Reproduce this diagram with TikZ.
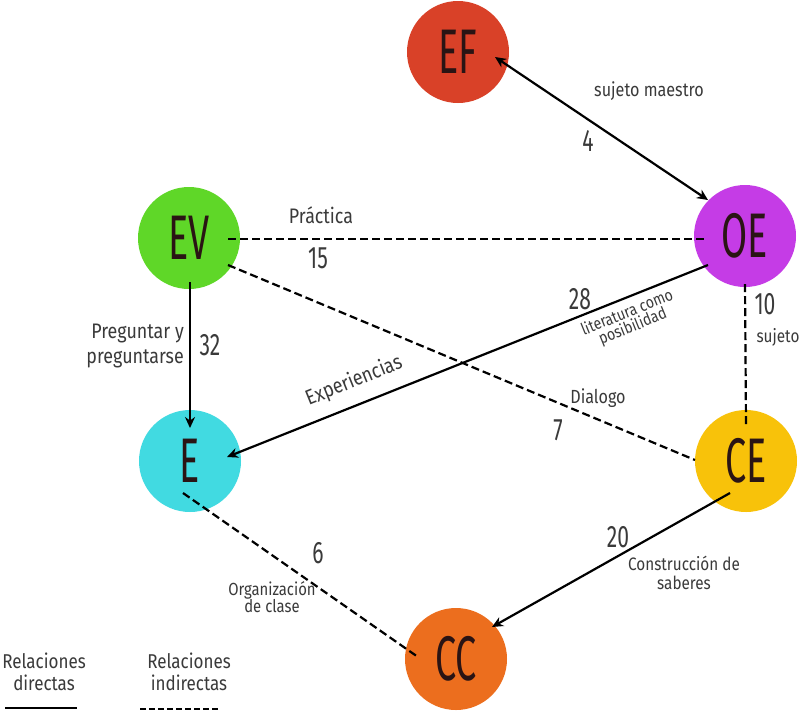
\documentclass[tikz,border=0pt]{standalone}
\usepackage{fontspec}
\setmainfont{Fira Sans}[FakeStretch=0.85]
\newfontfamily\cirf{Fira Sans}[FakeStretch=0.6]
\newfontfamily\numf{Fira Sans}[FakeStretch=0.68]
\usetikzlibrary{calc,arrows.meta}
\definecolor{cEF}{HTML}{D94128}
\definecolor{cOE}{HTML}{C53CE6}
\definecolor{cEV}{HTML}{5FD728}
\definecolor{cE}{HTML}{41DAE1}
\definecolor{cCE}{HTML}{F8C20A}
\definecolor{cCC}{HTML}{EC6E1E}
\definecolor{txt}{HTML}{3A3A3A}
\definecolor{ctxt}{HTML}{2A1414}
\tikzset{
  circ/.style={circle, minimum size=102pt, inner sep=0pt, text=ctxt,
    font=\cirf\fontsize{63}{63}\selectfont},
  solidarrow/.style={line width=2.2pt, black, -{Stealth[length=11pt,width=10pt]}},
  bothsolid/.style={line width=2.2pt, black, {Stealth[length=11pt,width=10pt]}-{Stealth[length=11pt,width=10pt]}},
  dashline/.style={line width=2.2pt, black, dash pattern=on 8pt off 4pt},
  lbl/.style={text=txt, font=\fontsize{20}{22}\selectfont, inner sep=0pt, align=center},
  slbl/.style={text=txt, font=\fontsize{17}{17}\selectfont, inner sep=0pt, align=center},
  num/.style={text=txt, font=\numf\fontsize{31}{31}\selectfont, inner sep=0pt},
  leg/.style={text=txt, font=\fontsize{20}{22}\selectfont, inner sep=0pt, align=center}
}
\begin{document}
\begin{tikzpicture}[x=1pt,y=-1pt]
\useasboundingbox (0,0) rectangle (800,716);
\fill[white] (0,0) rectangle (800,716);
% circles
\node[circ, fill=cEF] (EF) at (458,52) {EF};
\node[circ, fill=cOE] (OE) at (745,236) {OE};
\node[circ, fill=cEV] (EV) at (189,238) {EV};
\node[circ, fill=cE]  (E)  at (190,461) {E};
\node[circ, fill=cCE] (CE) at (746,461) {CE};
\node[circ, fill=cCC] (CC) at (456,659) {CC};
% connectors
\draw[bothsolid] ($(EF)+(37,5)$) -- ($(OE)+(-37,-36)$);
\draw[dashline] ($(EV)+(39,1)$) -- ($(OE)+(-40,3)$);
\draw[dashline] ($(EV)+(39,27)$) -- ($(CE)+(-51,-1)$);
\draw[solidarrow] ($(EV)+(1,44)$) -- ($(E)+(0,-33)$);
\draw[solidarrow] ($(OE)+(-37,29)$) -- ($(E)+(37,-4)$);
\draw[dashline] ($(OE)+(0,48)$) -- ($(CE)+(0,-36)$);
\draw[solidarrow] ($(CE)+(-16,32)$) -- ($(CC)+(36,-32)$);
\draw[dashline] ($(E)+(-7,32)$) -- ($(CC)+(-38,-2)$);
% labels
\node[lbl, font=\fontsize{19}{19}\selectfont] (l1) at (649,91) {sujeto maestro};
\node[num] (n4) at (588,141) {4};
\node[lbl, font=\fontsize{21}{21}\selectfont] (l2) at (321,215) {Práctica};
\node[num] (n15) at (318,258) {15};
\node[lbl, align=right, anchor=east, font=\fontsize{21}{25}\selectfont] (l3) at (184,346) {Preguntar y\\preguntarse};
\node[num] (n32) at (210,345) {32};
\node[lbl, rotate=22, font=\fontsize{21}{21}\selectfont] (l4) at (354,381) {Experiencias};
\node[num] (n28) at (580,299) {28};
\node[slbl, rotate=22, font=\fontsize{16.5}{15}\selectfont] (l5) at (630,320) {literatura como\\posibilidad};
\node[lbl, font=\fontsize{19}{19}\selectfont] (l6) at (598,398) {Dialogo};
\node[num] (n7) at (558,430) {7};
\node[num] (n10) at (765,304) {10};
\node[slbl, font=\fontsize{18}{18}\selectfont] (l7) at (778,337) {sujeto};
\node[num] (n20) at (618,537) {20};
\node[slbl, font=\fontsize{18}{19}\selectfont] (l8) at (684,573) {Construcción de\\saberes};
\node[num] (n6) at (318,553) {6};
\node[slbl, font=\fontsize{17.5}{17}\selectfont] (l9) at (272,597) {Organización\\de clase};
% legend
\node[leg] (g1) at (44,672) {Relaciones\\directas};
\node[leg] (g2) at (189,672) {Relaciones\\indirectas};
\coordinate (g1a) at (5,708);
\coordinate (g1b) at (77,708);
\coordinate (g2a) at (140,709);
\coordinate (g2b) at (218,709);
\draw[line width=2.2pt] (g1a) -- (g1b);
\draw[dashline, dash pattern=on 6pt off 3pt] (g2a) -- (g2b);
\end{tikzpicture}
\end{document}
